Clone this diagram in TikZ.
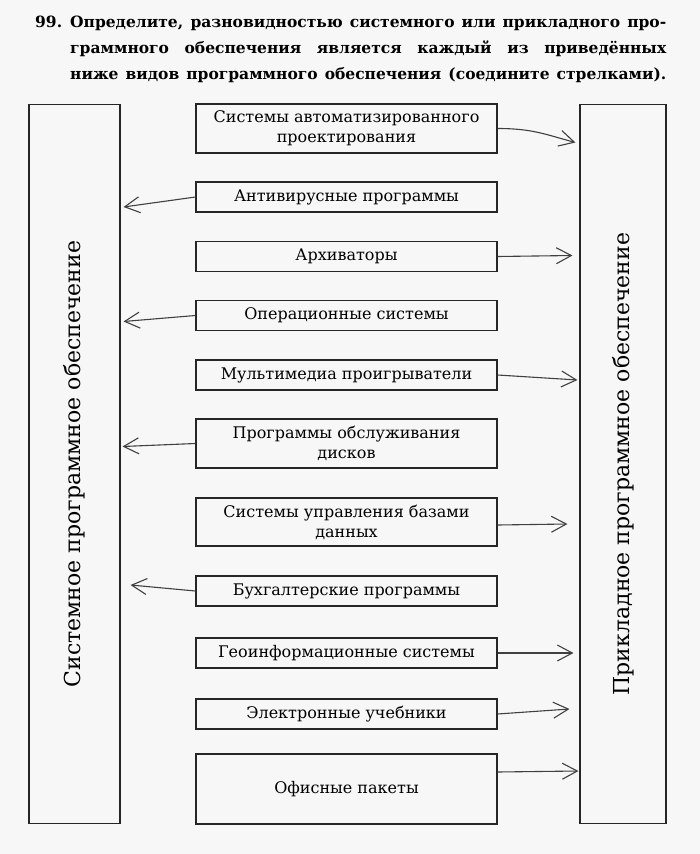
\documentclass[tikz,border=0pt]{standalone}
\usepackage{fontspec}
\setmainfont{DejaVu Serif}
\usetikzlibrary{arrows.meta, calc}

\begin{document}
\begin{tikzpicture}[x=1pt, y=-1pt,
    prgbox/.style={draw=black!85, line width=1.1pt, minimum width=301pt, align=center, inner sep=2pt, font=\fontsize{16}{20}\selectfont},
    bigbox/.style={draw=black!85, line width=1.1pt, minimum height=719pt},
    vlabel/.style={rotate=90, font=\fontsize{22}{24}\selectfont},
    hdr/.style={anchor=base west, inner sep=0pt, font=\fontsize{15.5}{26}\selectfont\bfseries},
    link/.style={draw=black!75, line width=1.1pt, -{Straight Barb[length=15pt, width=16pt]}}]

    % Фон страницы
    \fill[black!3] (0,0) rectangle (700,854);
    \useasboundingbox (0,0) rectangle (700,854);

    % Условие задачи
    \node[hdr] (num) at (35,27) {99.};
    \node[hdr] (task1) at (70,27) {\makebox[596pt][s]{Определите, разновидностью системного или прикладного про-}};
    \node[hdr] (task2) at (70,53) {\makebox[596pt][s]{граммного обеспечения является каждый из приведённых}};
    \node[hdr] (task3) at (70,79) {\makebox[596pt][s]{ниже видов программного обеспечения (соедините стрелками).}};

    % Системное и прикладное ПО
    \node[bigbox, minimum width=91pt] (sys) at (74.5,464) {};
    \node[vlabel] (syslbl) at (sys) {Системное программное обеспечение};
    \node[bigbox, minimum width=86pt] (app) at (623,464) {};
    \node[vlabel] (applbl) at (app) {Прикладное программное обеспечение};

    % Виды программ
    \node[prgbox, minimum height=49pt] (sapr) at (346.5,128.5) {Системы автоматизированного\\проектирования};
    \node[prgbox, minimum height=30pt] (antivir) at (346.5,197) {Антивирусные программы};
    \node[prgbox, minimum height=30pt] (arch) at (346.5,256.5) {Архиваторы};
    \node[prgbox, minimum height=30pt] (os) at (346.5,315.5) {Операционные системы};
    \node[prgbox, minimum height=30pt] (media) at (346.5,375) {Мультимедиа проигрыватели};
    \node[prgbox, minimum height=49pt] (disk) at (346.5,443.5) {Программы обслуживания\\дисков};
    \node[prgbox, minimum height=48pt] (dbms) at (346.5,522) {Системы управления базами\\данных};
    \node[prgbox, minimum height=30pt] (buh) at (346.5,591) {Бухгалтерские программы};
    \node[prgbox, minimum height=30pt] (geo) at (346.5,653) {Геоинформационные системы};
    \node[prgbox, minimum height=30pt] (ebook) at (346.5,714) {Электронные учебники};
    \node[prgbox, minimum height=70pt] (office) at (346.5,789) {Офисные пакеты};

    % Стрелки
    \draw[link] (sapr.east) .. controls +(35,0) and +(-30,-8) .. ($(app.west |- sapr.east)+(-4,14)$);
    \draw[link] (antivir.west) -- ($(sys.east |- antivir.west)+(3,10)$);
    \draw[link] (arch.east) -- ($(app.west |- arch.east)+(-7,-1)$);
    \draw[link] (os.west) -- ($(sys.east |- os.west)+(3,6)$);
    \draw[link] (media.east) -- ($(app.west |- media.east)+(-2,5)$);
    \draw[link] (disk.west) -- ($(sys.east |- disk.west)+(2,3)$);
    \draw[link] ($(dbms.east)+(0,3)$) -- ($(app.west |- dbms.east)+(-12,2)$);
    \draw[link] (buh.west) -- ($(sys.east |- buh.west)+(10,-6)$);
    \draw[link] (geo.east) -- ($(app.west |- geo.east)+(-6,0)$);
    \draw[link] (ebook.east) -- ($(app.west |- ebook.east)+(-10,-5)$);
    \draw[link] ($(office.east)+(0,-17)$) -- ($(app.west |- office.east)+(-1,-18)$);

\end{tikzpicture}
\end{document}
